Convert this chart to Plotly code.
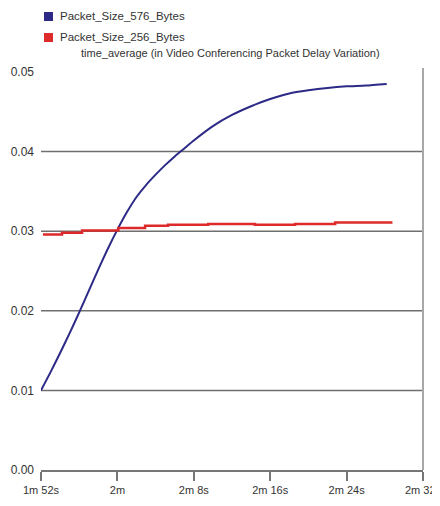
import plotly.graph_objects as go

# time in seconds
t_576 = [112, 113, 114, 115, 116, 117, 118, 119, 120, 121, 122, 123, 124, 125, 126, 127, 128,
         130, 132, 134, 136, 138, 140, 142, 144, 146, 148.2]
v_576 = [0.0100, 0.0123, 0.0147, 0.0172, 0.0198, 0.0225, 0.0252, 0.0278, 0.0302, 0.0324,
         0.0343, 0.0358, 0.0371, 0.0383, 0.0394, 0.0404, 0.0414, 0.0432, 0.0446, 0.0457,
         0.0466, 0.0473, 0.0477, 0.0480, 0.0482, 0.0483, 0.0485]

t_256 = [112.2, 114.2, 116.3, 120.1, 122.9, 125.3, 129.5, 134.4, 138.6, 142.8, 148.8]
v_256 = [0.0296, 0.0298, 0.0301, 0.0304, 0.0307, 0.0308, 0.0309, 0.0308, 0.0309, 0.0311, 0.0311]

x_ticks = [112, 120, 128, 136, 144, 152]
x_labels = ["1m 52s", "2m", "2m 8s", "2m 16s", "2m 24s", "2m 32s"]
y_ticks = [0.0, 0.01, 0.02, 0.03, 0.04, 0.05]
y_labels = ["0.00", "0.01", "0.02", "0.03", "0.04", "0.05"]

names = ["Packet_Size_576_Bytes", "Packet_Size_256_Bytes"]
colors = ["#2c2a86", "#dd2a2a"]
subtitle = "time_average (in Video Conferencing Packet Delay Variation)"

FONT = "Liberation Sans Narrow, Arial Narrow, Liberation Sans, Arial"
OFF = 8  # page body margin
TOP, BOT = 72, 470   # page pixel positions of plot area
LEFT, RIGHT = 41, 423
H = BOT - TOP
W = RIGHT - LEFT

fig = go.Figure()
fig.add_trace(go.Scatter(x=t_576, y=v_576, mode="lines",
                         line=dict(color=colors[0], width=2, shape="spline", smoothing=0.6),
                         name=names[0], showlegend=False))
fig.add_trace(go.Scatter(x=t_256, y=v_256, mode="lines", line=dict(color=colors[1], width=2.5, shape="hv"),
                         name=names[1], showlegend=False))

# grid lines (0.01 - 0.04)
for yv in y_ticks[1:-1]:
    fig.add_shape(type="line", xref="paper", yref="y", x0=0, x1=1, y0=yv, y1=yv,
                  line=dict(color="#6f6f6f", width=1.5), layer="below")
# right border
fig.add_shape(type="line", xref="paper", yref="paper", x0=1, x1=1, y0=0, y1=1.01,
              line=dict(color="#a8a8a8", width=2))

# legend squares + text
for i, (nm, c) in enumerate(zip(names, colors)):
    yp = 16 + i * 21
    fig.add_shape(type="rect", xref="paper", yref="paper",
                  x0=(44 - LEFT) / W, x1=(53 - LEFT) / W,
                  y0=(BOT - (yp + 5)) / H, y1=(BOT - (yp - 4)) / H,
                  fillcolor=c, line=dict(width=0))
    fig.add_annotation(text=nm, xref="paper", yref="paper", x=(58 - LEFT) / W, y=(BOT - yp) / H,
                       xanchor="left", yanchor="middle", showarrow=False,
                       font=dict(family=FONT, size=11.5, color="#333333"))
fig.add_annotation(text=subtitle, xref="paper", yref="paper", x=(230 - LEFT) / W, y=(BOT - 53) / H,
                   xanchor="center", yanchor="middle", showarrow=False,
                   font=dict(family=FONT, size=11, color="#333333"))

fig.update_layout(
    width=440 - OFF, height=506 - OFF,
    margin=dict(l=LEFT - OFF, r=440 - RIGHT, t=TOP - OFF, b=506 - BOT, autoexpand=False),
    paper_bgcolor="white", plot_bgcolor="white",
    font=dict(family=FONT, size=12, color="#333333"),
    xaxis=dict(range=[111.999, 152.001], tickvals=x_ticks, ticktext=x_labels, showgrid=False,
               zeroline=False, showline=True, linecolor="#777777", linewidth=1.5,
               ticks="outside", ticklen=9, tickwidth=1.5, tickcolor="#777777",
               tickfont=dict(size=11), automargin=False, ticklabeloverflow="allow"),
    yaxis=dict(range=[0, 0.05], tickvals=y_ticks, ticktext=y_labels, showgrid=False,
               zeroline=False, showline=False, ticks="", ticklabelstandoff=6,
               tickfont=dict(size=12), automargin=False),
)
fig.write_html("out.html")
